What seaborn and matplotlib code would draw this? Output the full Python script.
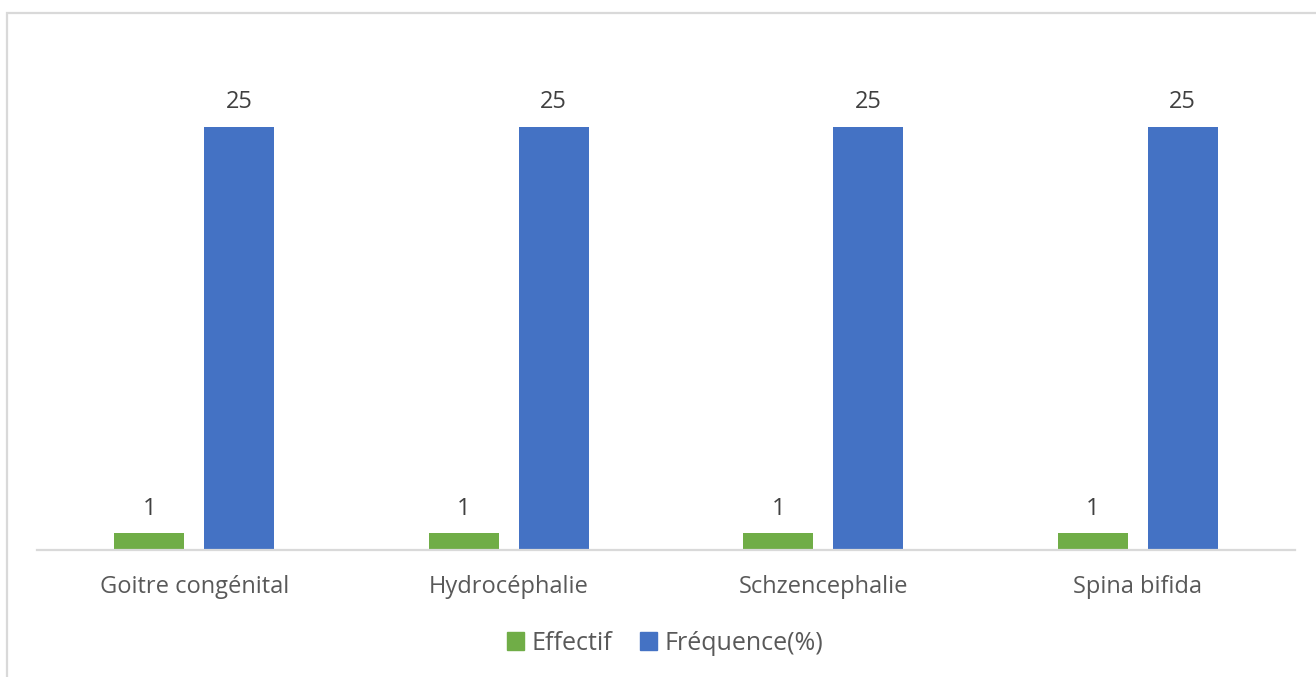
import matplotlib
matplotlib.use("Agg")
import matplotlib.pyplot as plt
import matplotlib.patches as mpatches
import seaborn as sns
import pandas as pd

categories = ["Goitre congénital", "Hydrocéphalie", "Schzencephalie", "Spina bifida"]
series_names = ["Effectif", "Fréquence(%)"]
effectif = [1, 1, 1, 1]
frequence = [25, 25, 25, 25]
colors = ["#70ad47", "#4472c4"]

df = pd.DataFrame({
    "cat": categories * 2,
    "serie": [series_names[0]] * 4 + [series_names[1]] * 4,
    "val": effectif + frequence,
})

sns.set_theme(style="white")
plt.rcParams["font.family"] = ["Open Sans", "DejaVu Sans"]

W, H = 1316, 677
fig = plt.figure(figsize=(W / 100, H / 100), dpi=100)
ax = fig.add_axes([37 / W, 1 - 550 / H, (1295 - 37) / W, (550 - 42) / H])

sns.barplot(data=df, x="cat", y="val", hue="serie", hue_order=series_names,
            palette=colors, width=0.572, gap=0.22, ax=ax, legend=False,
            saturation=1, errorbar=None, linewidth=0)

ax.set_ylim(0, 30)
ax.set_xlim(-0.5, 3.5)
ax.set_xlabel("")
ax.set_ylabel("")
ax.set_yticks([])
for s in ["top", "right", "left"]:
    ax.spines[s].set_visible(False)
ax.spines["bottom"].set_color("#d9d9d9")
ax.spines["bottom"].set_linewidth(1.6)
ax.tick_params(axis="x", length=0, pad=18, labelsize=17, labelcolor="#595959")

for cont in ax.containers:
    ax.bar_label(cont, labels=[f"{v:g}" for v in cont.datavalues],
                 padding=9, fontsize=17, color="#404040")

handles = [mpatches.Patch(color=c, label=n) for c, n in zip(colors, series_names)]
fig.legend(handles=handles, loc="center", bbox_to_anchor=(0.5 + 7 / W, 1 - 643 / H),
           ncol=2, frameon=False, fontsize=18, labelcolor="#595959",
           handlelength=0.7, handleheight=0.7, handletextpad=0.3, columnspacing=1.1)

# outer chart frame
frame = mpatches.Rectangle((7 / W, -0.1), 1.2, 1 - 13 / H + 0.1,
                           transform=fig.transFigure, fill=False,
                           edgecolor="#d9d9d9", linewidth=1.6)
fig.patches.append(frame)

fig.savefig("out.png", dpi=100)
